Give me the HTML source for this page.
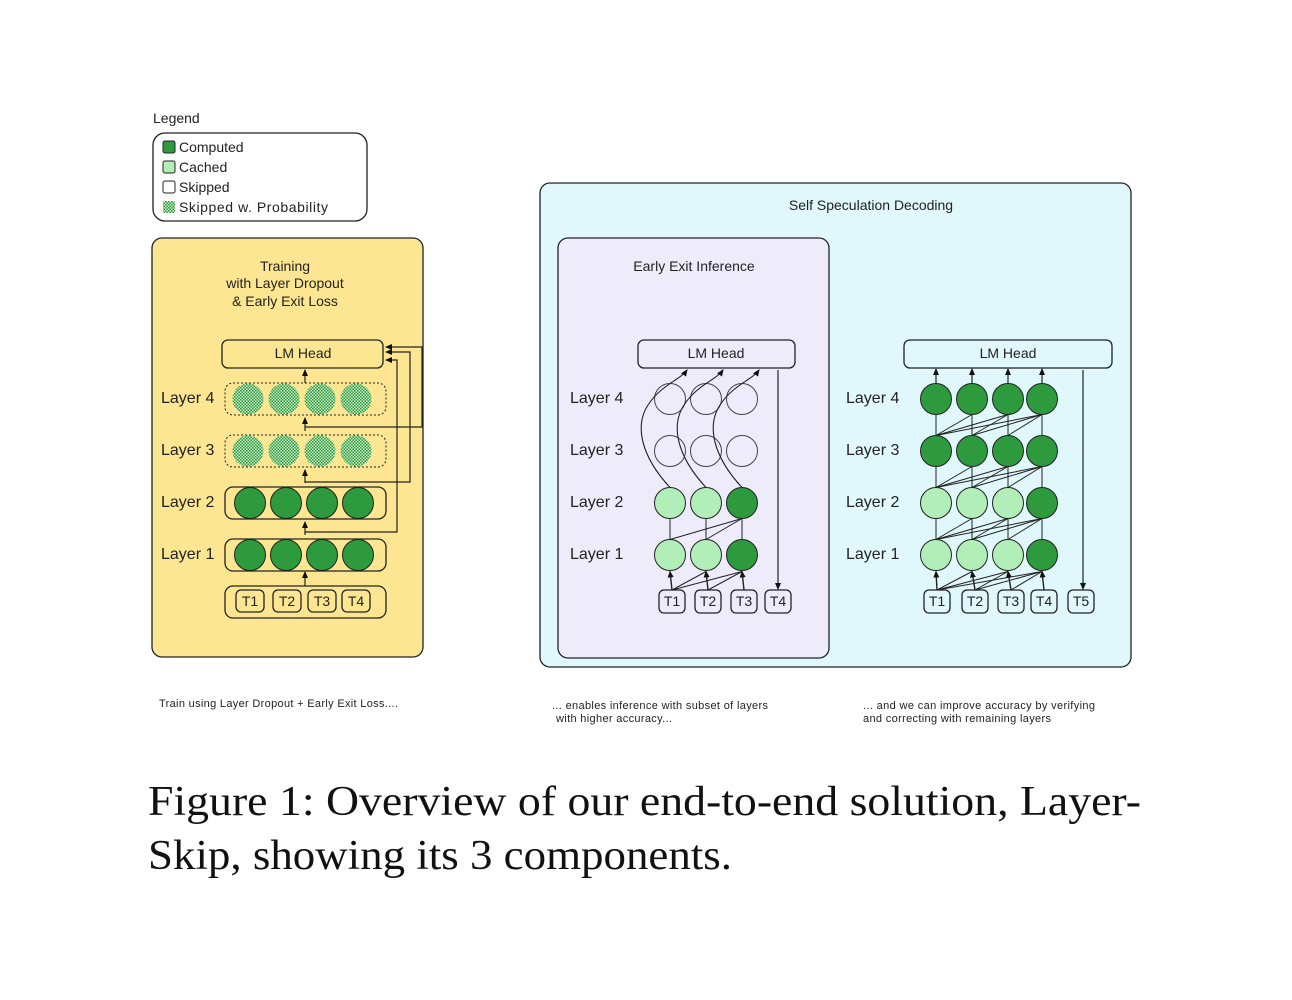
<!DOCTYPE html>
<html><head><meta charset="utf-8"><style>
html,body{margin:0;padding:0;background:#fff}
svg{display:block;font-family:"Liberation Sans",sans-serif}
</style></head><body>
<svg id="s" width="1292" height="1000" viewBox="0 0 1292 1000" xmlns="http://www.w3.org/2000/svg">
<defs>
<pattern id="chk" width="3" height="3" patternUnits="userSpaceOnUse"><rect width="3" height="3" fill="#c9ecc4"/><rect width="1.5" height="1.5" fill="#2e9a3e"/><rect x="1.5" y="1.5" width="1.5" height="1.5" fill="#2e9a3e"/></pattern>
<marker id="ar" markerWidth="8" markerHeight="8" refX="6" refY="4" orient="auto" markerUnits="userSpaceOnUse"><path d="M0,1 L7,4 L0,7 Z" fill="#111"/></marker>
</defs>
<text x="153" y="123" font-size="14" fill="#222">Legend</text>
<rect x="153" y="133" width="214" height="88" rx="12" fill="#fff" stroke="#222" stroke-width="1.3"/>
<rect x="163" y="141" width="12" height="12" rx="2" fill="#2e9a3e" stroke="#222"/>
<rect x="163" y="161" width="12" height="12" rx="2" fill="#b2efb8" stroke="#222"/>
<rect x="163" y="181" width="12" height="12" rx="2" fill="#fff" stroke="#222"/>
<rect x="163" y="201" width="12" height="12" rx="2" fill="url(#chk)"/>
<g font-size="14" fill="#222">
<text x="179" y="152">Computed</text><text x="179" y="172">Cached</text><text x="179" y="192">Skipped</text><text x="179" y="212" textLength="149">Skipped w. Probability</text>
</g>
<rect x="152" y="238" width="271" height="419" rx="10" fill="#fde691" stroke="#222" stroke-width="1.3"/>
<g font-size="14" fill="#222" text-anchor="middle">
<text x="285" y="271">Training</text><text x="285" y="288">with Layer Dropout</text><text x="285" y="306">&amp; Early Exit Loss</text>
</g>
<rect x="540" y="183" width="591" height="484" rx="10" fill="#e0f7fb" stroke="#222" stroke-width="1.3"/>
<text x="871" y="210" font-size="14" fill="#222" text-anchor="middle">Self Speculation Decoding</text>
<rect x="558" y="238" width="271" height="420" rx="10" fill="#eeebfb" stroke="#222" stroke-width="1.3"/>
<text x="694" y="271" font-size="14" fill="#222" text-anchor="middle">Early Exit Inference</text>
<g id="g"></g>
<g font-size="16" fill="#222">
<text x="161" y="403">Layer 4</text><text x="161" y="455">Layer 3</text><text x="161" y="507">Layer 2</text><text x="161" y="559">Layer 1</text>
<text x="570" y="403">Layer 4</text><text x="570" y="455">Layer 3</text><text x="570" y="507">Layer 2</text><text x="570" y="559">Layer 1</text>
<text x="846" y="403">Layer 4</text><text x="846" y="455">Layer 3</text><text x="846" y="507">Layer 2</text><text x="846" y="559">Layer 1</text>
</g>
<g font-size="14" fill="#222" text-anchor="middle">
<text x="303" y="358">LM Head</text><text x="716" y="358">LM Head</text><text x="1008" y="358">LM Head</text>
<text x="250" y="606">T1</text><text x="287" y="606">T2</text><text x="322" y="606">T3</text><text x="356" y="606">T4</text>
<text x="672" y="606">T1</text><text x="708" y="606">T2</text><text x="744" y="606">T3</text><text x="778" y="606">T4</text>
<text x="937" y="606">T1</text><text x="975" y="606">T2</text><text x="1011" y="606">T3</text><text x="1044" y="606">T4</text><text x="1081" y="606">T5</text>
</g>
<g font-size="11" fill="#222">
<text x="159" y="707" textLength="239">Train using Layer Dropout + Early Exit Loss....</text>
<text x="552" y="709" textLength="216">... enables inference with subset of layers</text>
<text x="556" y="722" textLength="116">with higher accuracy...</text>
<text x="863" y="709" textLength="232">... and we can improve accuracy by verifying</text>
<text x="863" y="722" textLength="188">and correcting with remaining layers</text>
</g>
<g font-family="Liberation Serif,serif" font-size="42" fill="#111">
<text x="148" y="815" textLength="993" lengthAdjust="spacingAndGlyphs">Figure 1: Overview of our end-to-end solution, Layer-</text>
<text x="148" y="869" textLength="584" lengthAdjust="spacingAndGlyphs">Skip, showing its 3 components.</text>
</g>
</svg>
<script>
var g=document.getElementById('g'),NS='http://www.w3.org/2000/svg';
function el(t,a){var e=document.createElementNS(NS,t);for(var k in a)e.setAttribute(k,a[k]);g.appendChild(e);return e;}
var S='#222';
var ys=[555,503,451,399];
el('rect',{x:222,y:340,width:161,height:28,rx:6,fill:'#fde691',stroke:S,'stroke-width':1.3});
[0,1,2,3].forEach(function(l){var y=ys[l];var dot=l>=2;
 el('rect',{x:225,y:y-16,width:161,height:32,rx:8,fill:'none',stroke:S,'stroke-width':dot?1:1.3,'stroke-dasharray':dot?'2,2':''});
 [248,284,320,356].forEach(function(x){el('circle',{cx:x+(l==0||l==1?2:0),cy:y,r:15.5,fill:dot?'url(#chk)':'#2e9a3e',stroke:dot?'none':S,'stroke-width':1});});});
el('rect',{x:225,y:586,width:161,height:32,rx:8,fill:'none',stroke:S,'stroke-width':1.3});
[250,287,322,356].forEach(function(x){el('rect',{x:x-14,y:590,width:28,height:22,rx:5,fill:'none',stroke:S,'stroke-width':1.3});});
[[586,572],[535,522],[483,470],[431,418],[383,370]].forEach(function(p){el('line',{x1:305,y1:p[0],x2:305,y2:p[1],stroke:S,'stroke-width':1.2,'marker-end':'url(#ar)'});});
[[532,397,360],[482,410,352],[427,422,347]].forEach(function(p){el('polyline',{points:'305,'+p[0]+' '+p[1]+','+p[0]+' '+p[1]+','+p[2]+' 386,'+p[2],fill:'none',stroke:S,'stroke-width':1.2,'marker-end':'url(#ar)'});});
el('rect',{x:638,y:340,width:157,height:28,rx:6,fill:'#eeebfb',stroke:S,'stroke-width':1.3});
var ex=[670,706,742],r=15.5;
function lines(xs,yl,yu,fullCross,onlyTo){for(var i=0;i<xs.length;i++)for(var j=i;j<xs.length;j++){if(i!=j&&onlyTo!=null&&j!=onlyTo)continue;el('line',{x1:xs[i],y1:yl,x2:xs[j],y2:yu,stroke:S,'stroke-width':1});}}
lines(ex,555-r,503+r,true,2);
var tx=[672,708,744];
for(var i=0;i<3;i++)for(var j=i;j<3;j++){if(i==j){el('line',{x1:tx[i],y1:590,x2:ex[j],y2:555+r+1,stroke:S,'stroke-width':1.4,'marker-end':'url(#ar)'});}else el('line',{x1:tx[i],y1:590,x2:ex[j],y2:555+r+1,stroke:S,'stroke-width':1});}
var cols=[['#b2efb8','#b2efb8','#fff','#fff'],['#b2efb8','#b2efb8','#fff','#fff'],['#2e9a3e','#2e9a3e','#fff','#fff']];
ex.forEach(function(x,c){ys.forEach(function(y,l){el('circle',{cx:x,cy:y,r:r,fill:cols[c][l],stroke:cols[c][l]=='#fff'?'#444':S,'fill-opacity':cols[c][l]=='#fff'?0:1,'stroke-width':1});});
 el('path',{d:'M'+x+','+(503-r)+' C'+(x-30)+',455 '+(x-35)+',425 '+(x-22)+',405 S'+(x+10)+',380 '+(x+17)+',370',fill:'none',stroke:S,'stroke-width':1.1,'marker-end':'url(#ar)'});});
el('line',{x1:778,y1:370,x2:778,y2:589,stroke:S,'stroke-width':1.2,'marker-end':'url(#ar)'});
[672,708,744,778].forEach(function(x){el('rect',{x:x-13,y:590,width:26,height:23,rx:5,fill:'none',stroke:S,'stroke-width':1.3});});
el('rect',{x:904,y:340,width:208,height:28,rx:6,fill:'#e0f7fb',stroke:S,'stroke-width':1.3});
var vx=[936,972,1008,1042];
var vt=[937,975,1011,1044];
for(var l=0;l<3;l++)lines(vx,ys[l]-r,ys[l+1]+r,true,null);
for(var i=0;i<4;i++)for(var j=i;j<4;j++)el('line',{x1:vt[i],y1:590,x2:vx[j],y2:555+r+1,stroke:S,'stroke-width':i==j?1.4:1,'marker-end':i==j?'url(#ar)':''});
var vc=[['#b2efb8','#b2efb8','#2e9a3e','#2e9a3e'],['#b2efb8','#b2efb8','#2e9a3e','#2e9a3e'],['#b2efb8','#b2efb8','#2e9a3e','#2e9a3e'],['#2e9a3e','#2e9a3e','#2e9a3e','#2e9a3e']];
vx.forEach(function(x,c){ys.forEach(function(y,l){el('circle',{cx:x,cy:y,r:r,fill:vc[c][l],stroke:S,'stroke-width':1});});
 el('line',{x1:x,y1:399-r,x2:x,y2:369,stroke:S,'stroke-width':1.2,'marker-end':'url(#ar)'});});
el('line',{x1:1083,y1:370,x2:1083,y2:589,stroke:S,'stroke-width':1.2,'marker-end':'url(#ar)'});
[937,975,1011,1044,1081].forEach(function(x){el('rect',{x:x-13,y:590,width:26,height:23,rx:5,fill:'none',stroke:S,'stroke-width':1.3});});
</script>
</body></html>
